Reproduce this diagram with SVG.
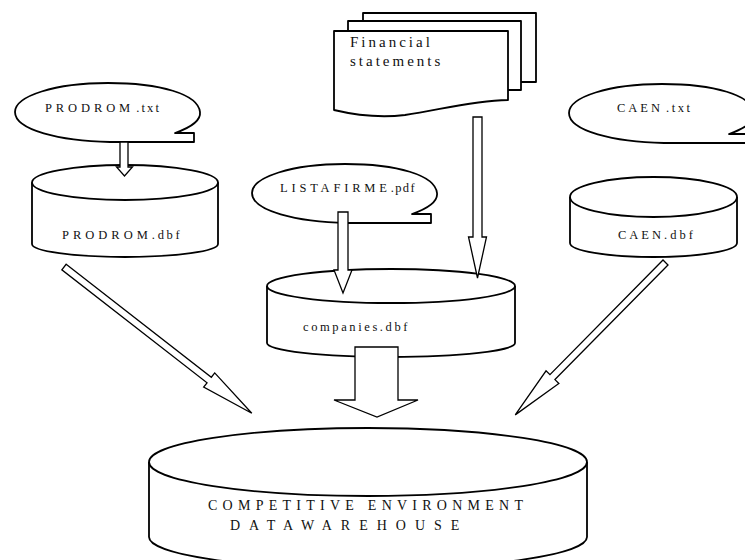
<svg xmlns="http://www.w3.org/2000/svg" xmlns:xlink="http://www.w3.org/1999/xlink" width="745" height="560" viewBox="0 0 745 560">
<style>
.shape{fill:#fff;stroke:#000;stroke-width:1.8;stroke-linejoin:round}
.line{fill:none;stroke:#000;stroke-width:1.8}
.arrow{fill:#fff;stroke:#000;stroke-width:1.3;stroke-linejoin:miter}
.lbl{font-family:"Liberation Serif","Times New Roman",serif;font-size:12.5px;fill:#111}
.fin{font-size:15px}
.big{font-size:14px}
</style>
<defs>
<path id="callout" d="M179,50 L160,50 C177,44 186,37 185,29 C183,11 145,0 93,0 C40,0 0,13 0,29 C0,47 45,58 95,59 L179,59 Z"/>
</defs>
<rect width="745" height="560" fill="#fff"/>

<g id="prodrom-txt">
<use xlink:href="#callout" class="shape" transform="translate(15,83)"/>
<text class="lbl" x="45" y="112"><tspan letter-spacing="3.9">PRODROM</tspan><tspan letter-spacing="2.2" dx="2">.txt</tspan></text>
</g>

<g id="prodrom-dbf">
<path class="shape" d="M32,182.5 A93,17.5 0 0 1 218,182.5 L218,244 A93,13 0 0 1 32,244 Z"/>
<path class="line" d="M32,182.5 A93,17.5 0 0 0 218,182.5"/>
<text class="lbl" x="62" y="239"><tspan letter-spacing="4">PRODROM</tspan><tspan letter-spacing="2.7">.dbf</tspan></text>
</g>

<g id="financial">
<rect class="shape" x="363" y="13" width="173" height="69"/>
<rect class="shape" x="348" y="21" width="173" height="69"/>
<path class="shape" d="M334,31 H508 V100 C470,101 440,110 405,115 C380,118 355,115 334,110 Z"/>
<text class="lbl fin" letter-spacing="3"><tspan x="350" y="47">Financial</tspan><tspan x="350" y="66">statements</tspan></text>
</g>

<g id="listafirme">
<use xlink:href="#callout" class="shape" transform="translate(252,164)"/>
<text class="lbl" x="280" y="192"><tspan letter-spacing="3.8">LISTAFIRME</tspan><tspan letter-spacing="1.4">.pdf</tspan></text>
</g>

<g id="caen-txt">
<use xlink:href="#callout" class="shape" transform="translate(569,84)"/>
<text class="lbl" x="617" y="112"><tspan letter-spacing="3">CAEN</tspan><tspan letter-spacing="2.5" dx="3">.txt</tspan></text>
</g>

<g id="caen-dbf">
<path class="shape" d="M570,197 A83.5,20 0 0 1 737,197 L737,243 A83.5,14 0 0 1 570,243 Z"/>
<path class="line" d="M570,197 A83.5,20 0 0 0 737,197"/>
<text class="lbl" x="618" y="239"><tspan letter-spacing="3">CAEN</tspan><tspan letter-spacing="3">.dbf</tspan></text>
</g>

<g id="companies">
<path class="shape" d="M267,286 A124,17 0 0 1 515,286 L515,343 A124,14 0 0 1 267,343 Z"/>
<path class="line" d="M267,286 A124,17 0 0 0 515,286"/>
<text class="lbl" x="303" y="331" letter-spacing="2.6">companies.dbf</text>
</g>

<g id="warehouse">
<path class="shape" d="M149,462 A219,34 0 0 1 587,462 L587,537 A219,32 0 0 1 149,537 Z"/>
<path class="line" d="M149,462 A219,34 0 0 0 587,462"/>
<text class="lbl big" x="208" y="510" letter-spacing="5.25">COMPETITIVE ENVIRONMENT</text>
<text class="lbl big" x="230" y="530" letter-spacing="9">DATAWAREHOUSE</text>
</g>

<g id="connectors">
<polygon class="arrow" points="120,142 128,142 128,167 132.5,167 124.5,176 116.5,167 120,167"/>
<polygon class="arrow" points="473,117 482,117 482,237 486.5,237 477.5,278 468.5,237 473,237"/>
<polygon class="arrow" points="338,212 348,212 348,270 352,270 343,293 334,270 338,270"/>
<polygon class="arrow" points="355,347 398,347 398,400 418,400 377,417 334,400 355,400"/>
<polygon class="arrow" transform="translate(64,267) rotate(37.9)" points="0,-3.5 184,-3.5 184,-9 238,0 184,9 184,3.5 0,3.5"/>
<polygon class="arrow" transform="translate(665.5,262.5) rotate(134.6)" points="0,-3.5 161,-3.5 161,-9 214,0 161,9 161,3.5 0,3.5"/>
</g>
</svg>
